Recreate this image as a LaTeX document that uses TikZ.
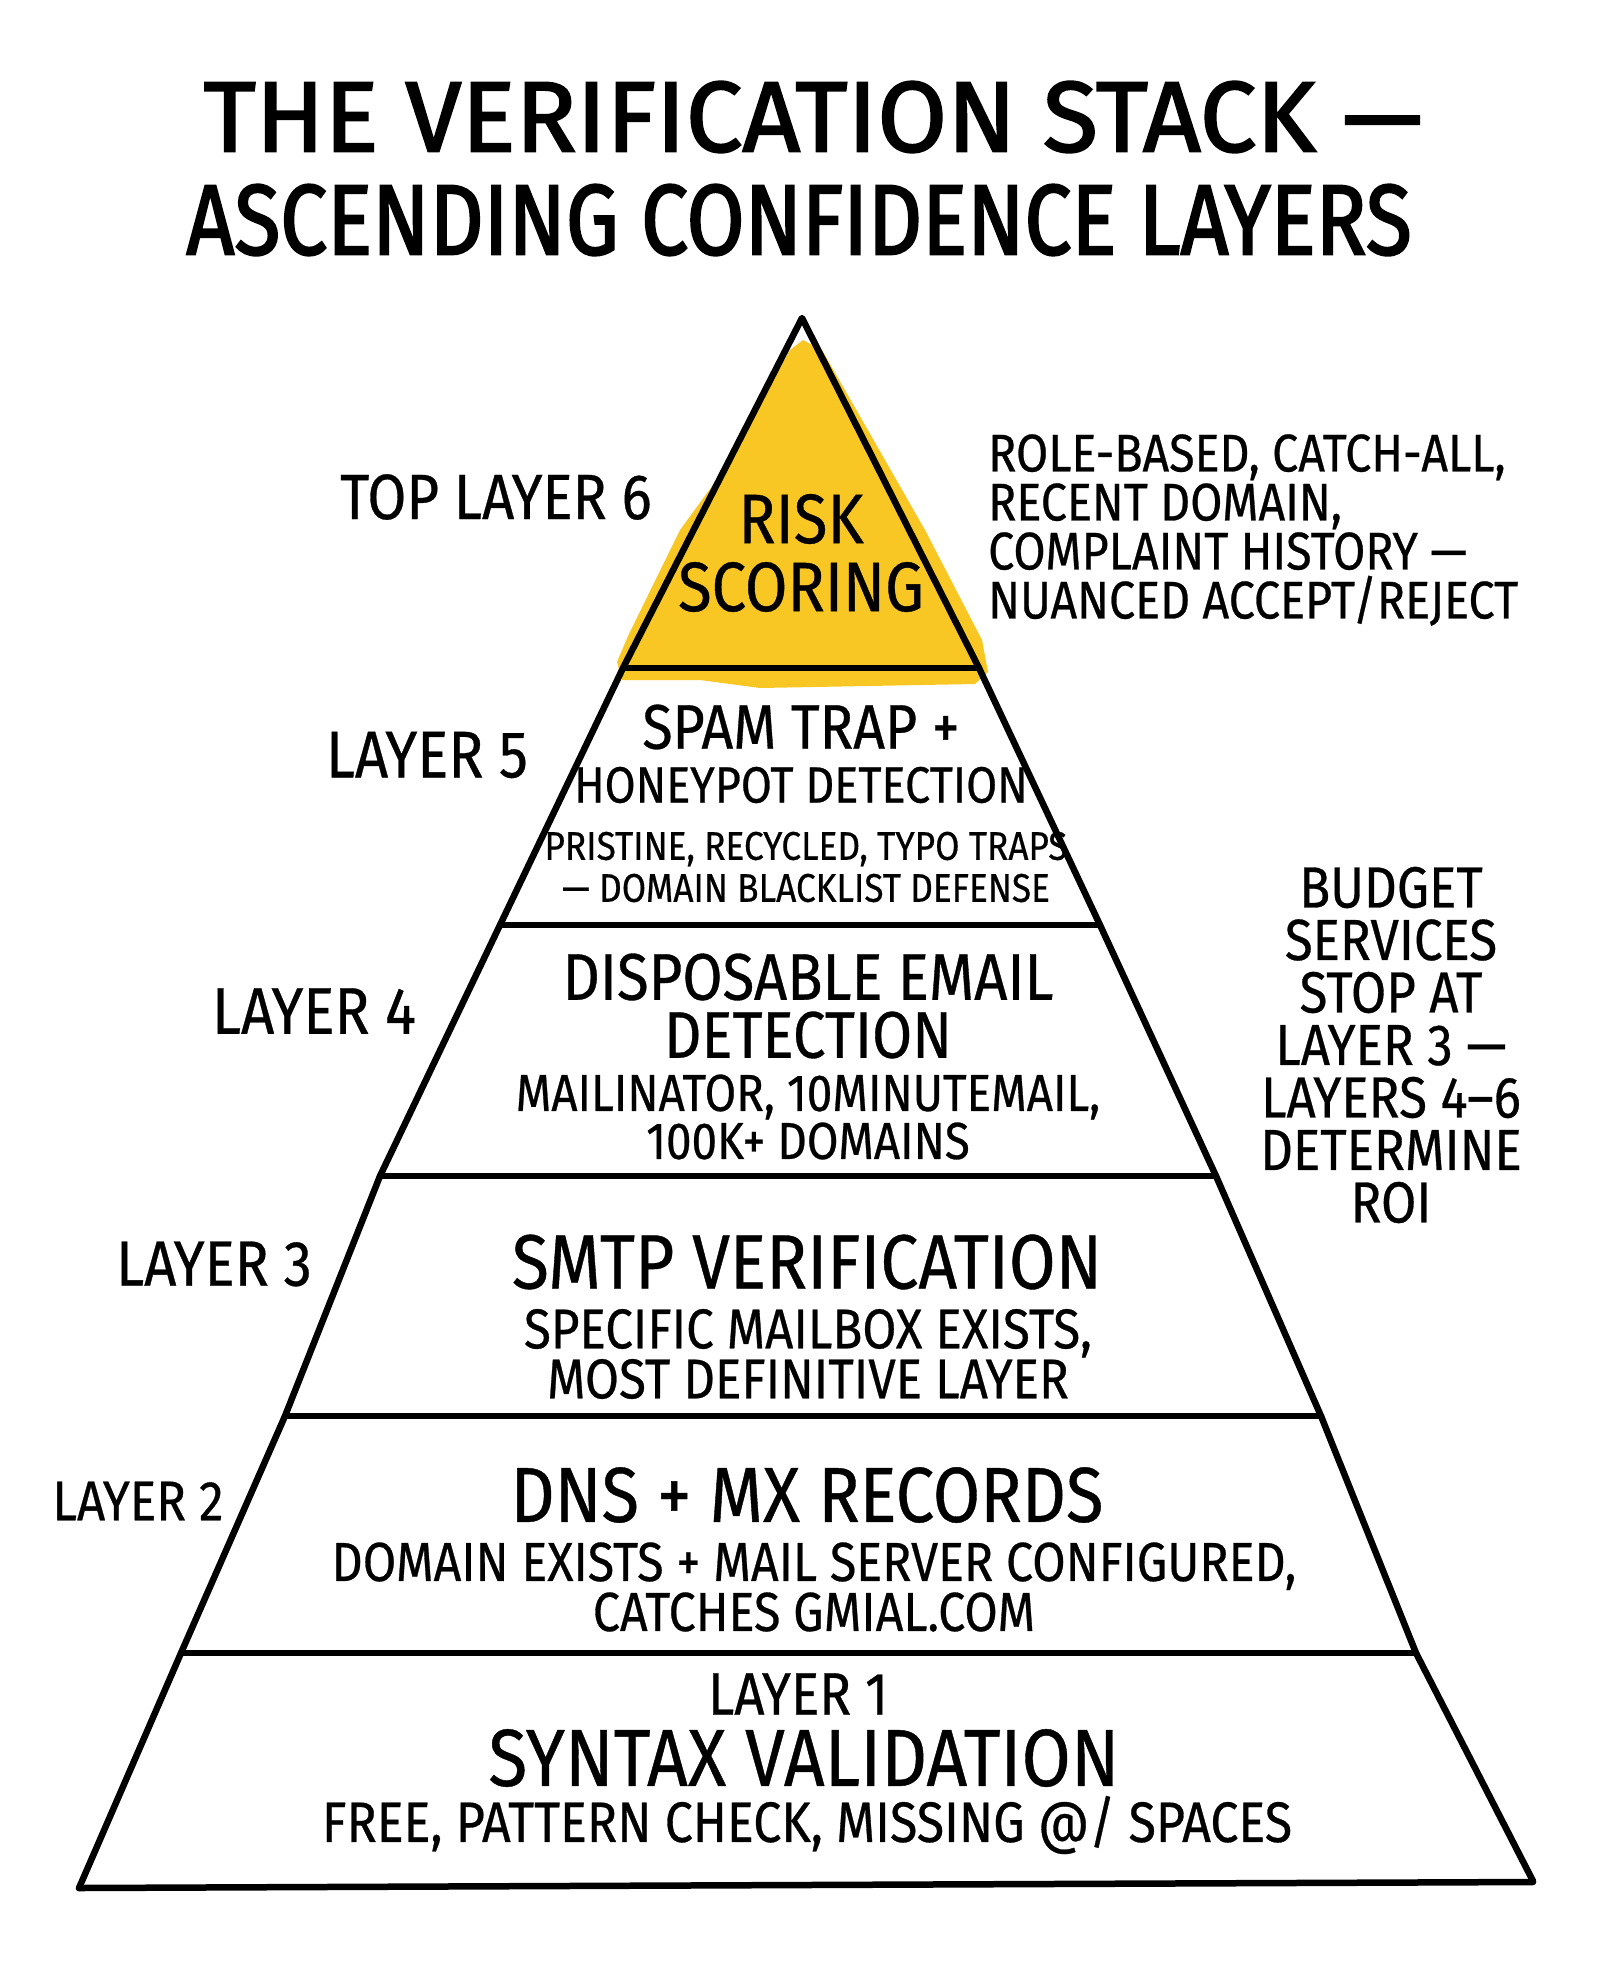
\documentclass[tikz,border=0pt]{standalone}
\usepackage{fontspec}
\setmainfont{Fira Sans}[FakeStretch=0.88, FakeBold=0.5]
\newfontfamily\titlefontA{Fira Sans}[FakeStretch=1.01, FakeBold=2]
\newfontfamily\titlefontB{Fira Sans}[FakeStretch=0.84, FakeBold=2]
\definecolor{riskyellow}{RGB}{249,199,36}
\newcommand\myfs[2]{\fontsize{#1}{#2}\selectfont}
\tikzset{
  edge/.style={line width=6.5pt, line cap=round, line join=round, black},
  txt/.style={inner sep=0pt, align=center, text=black},
}
\begin{document}
\begin{tikzpicture}[x=1pt,y=-1pt]
\path[use as bounding box, fill=white] (0,0) rectangle (1600,1986);
% yellow wash of top layer
\fill[riskyellow] (803,340) -- (822,350) -- (925,530) -- (982,640) -- (988,672) -- (975,684) -- (760,688) -- (700,680) -- (622,680) -- (617,662) -- (628,636) -- (680,530) -- (718,478) -- (790,350) -- cycle;
% pyramid sides
\draw[edge] (79,1888) -- (181,1653) -- (285,1416) -- (380,1176) -- (500,925) -- (623,668) -- (802,318) -- (979,668) -- (1100,925) -- (1216,1176) -- (1321,1416) -- (1416,1653) -- (1533,1881);
% layer separators
\draw[edge] (623,668) -- (979,668);
\draw[edge] (500,925) -- (1100,925);
\draw[edge] (380,1176) -- (1216,1176);
\draw[edge] (285,1416) -- (1321,1416);
\draw[edge] (181,1653) -- (1416,1653);
\draw[edge] (79,1888) -- (1533,1882);
% title
\node[txt, font=\titlefontA\myfs{100}{103}] (title1) at (813,117) {THE VERIFICATION STACK —};
\node[txt, font=\titlefontB\myfs{100}{103}] (title2) at (799,220) {ASCENDING CONFIDENCE LAYERS};
% layer 6
\node[txt, font=\myfs{70}{68}] (risk) at (801,553) {RISK\\SCORING};
\node[txt, font=\myfs{64}{64}] (l6) at (496,497) {TOP LAYER 6};
\node[txt, anchor=west, align=left, font=\myfs{53}{49}] (riskdesc) at (988,530) {ROLE-BASED, CATCH-ALL,\\RECENT DOMAIN,\\COMPLAINT HISTORY —\\NUANCED ACCEPT/REJECT};
% layer 5
\node[txt, font=\myfs{66}{66}] (l5) at (427,755) {LAYER 5};
\node[txt, font=\myfs{63}{63}] (spam1) at (801,727) {SPAM TRAP +};
\node[txt, font=\myfs{51}{51}] (spam2) at (801,785) {HONEYPOT DETECTION};
\node[txt, font=\myfs{40}{42}] (spam3) at (806,867) {PRISTINE, RECYCLED, TYPO TRAPS\\— DOMAIN BLACKLIST DEFENSE};
% layer 4
\node[txt, font=\myfs{66}{66}] (l4) at (314,1011) {LAYER 4};
\node[txt, font=\myfs{66}{58}] (disp) at (808,1006) {DISPOSABLE EMAIL\\DETECTION};
\node[txt, font=\myfs{52}{48}] (dispdesc) at (808,1117) {MAILINATOR, 10MINUTEMAIL,\\100K+ DOMAINS};
% layer 3
\node[txt, font=\myfs{64}{64}] (l3) at (214,1264) {LAYER 3};
\node[txt, font=\myfs{77}{77}] (smtp) at (807,1262) {SMTP VERIFICATION};
\node[txt, font=\myfs{56}{50}] (smtpdesc) at (808,1354) {SPECIFIC MAILBOX EXISTS,\\MOST DEFINITIVE LAYER};
% layer 2
\node[txt, font=\myfs{56}{56}] (l2) at (138,1501) {LAYER 2};
\node[txt, font=\myfs{78}{78}] (dns) at (807,1495) {DNS + MX RECORDS};
\node[txt, font=\myfs{55}{50}] (dnsdesc) at (814,1587) {DOMAIN EXISTS + MAIL SERVER CONFIGURED,\\CATCHES GMIAL.COM};
% layer 1
\node[txt, font=\myfs{60}{60}] (l1) at (798,1694) {LAYER 1};
\node[txt, font=\myfs{81}{81}] (syntax) at (804,1758) {SYNTAX VALIDATION};
\node[txt, font=\myfs{57}{57}] (syntaxdesc) at (807,1825) {FREE, PATTERN CHECK, MISSING @/ SPACES};
% side note
\node[txt, font=\myfs{58}{52.5}] (budget) at (1391,1045) {BUDGET\\SERVICES\\STOP AT\\LAYER 3 —\\LAYERS 4–6\\DETERMINE\\ROI};
\end{tikzpicture}
\end{document}
